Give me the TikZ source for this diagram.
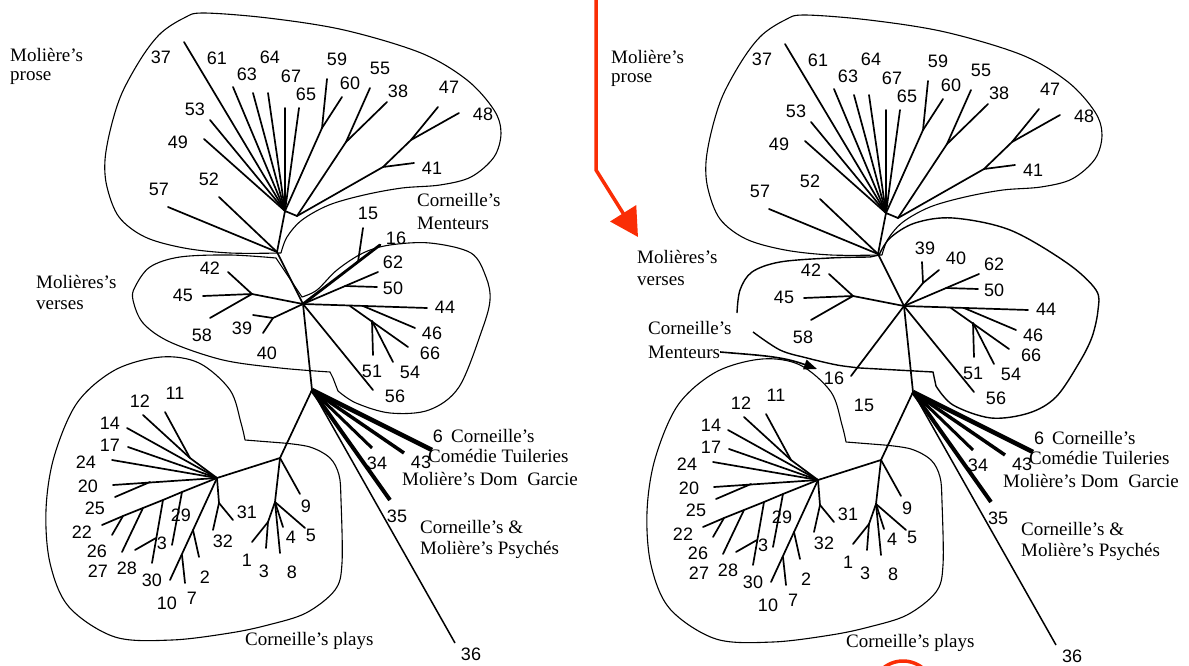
\documentclass[tikz,border=0pt]{standalone}
\usepackage{fontspec}
\setmainfont{Liberation Serif}
\setsansfont{Liberation Sans}
\usetikzlibrary{arrows.meta}
\definecolor{redmark}{RGB}{250,45,5}
\tikzset{
  lab/.style={font=\sffamily\fontsize{18}{18}\selectfont, inner sep=0pt},
  ttl/.style={font=\fontsize{19}{19}\selectfont, inner sep=0pt, anchor=west},
  br/.style={line width=1.7pt, line cap=round},
  outl/.style={line width=1.1pt},
  redline/.style={draw=redmark, line width=3.5pt},
}
\newcommand\leafat[5]{\coordinate (#1e#2) at (#3); \node[lab] (#1l#2) at (#4) {#5};}
\newcommand\drawcommontree[1]{%
  % hubs
  \coordinate (#1PH) at (285,211);
  \coordinate (#1PH2) at (297,216);
  \coordinate (#1LH) at (277,252);
  \coordinate (#1VH) at (303,304);
  \coordinate (#1PL) at (312,390);
  % prose
  \leafat{#1}{37}{184,42}{161,57}{37}
  \leafat{#1}{61}{233,87}{217,58}{61}
  \leafat{#1}{63}{253,93}{247,74}{63}
  \leafat{#1}{64}{268,93}{270,57}{64}
  \leafat{#1}{67}{285,108}{291,76}{67}
  \leafat{#1}{65}{299,108}{306,94}{65}
  \leafat{#1}{59}{327,79}{337,59}{59}
  \leafat{#1}{60}{342,97}{350,83}{60}
  \leafat{#1}{55}{370,88}{380,68}{55}
  \leafat{#1}{38}{387,102}{398,91}{38}
  \leafat{#1}{47}{438,107}{449,87}{47}
  \leafat{#1}{48}{459,113}{483,114}{48}
  \leafat{#1}{41}{414,163}{432,168}{41}
  \leafat{#1}{53}{210,120}{195,109}{53}
  \leafat{#1}{49}{204,139}{178,142}{49}
  \leafat{#1}{52}{219,197}{209,179}{52}
  \leafat{#1}{57}{168,207}{159,189}{57}
  \coordinate (#1J5960) at (322,128);
  \coordinate (#1J5538) at (346,142);
  \coordinate (#1J4748) at (411,140);
  \coordinate (#1J41) at (383,167);
  \foreach \n in {37,61,63,64,67,65,53,49} {\draw[br] (#1PH) -- (#1e\n);}
  \draw[br] (#1e59) -- (#1J5960) -- (#1PH);
  \draw[br] (#1e60) -- (#1J5960);
  \draw[br] (#1e55) -- (#1J5538) -- (#1PH2);
  \draw[br] (#1e38) -- (#1J5538);
  \draw[br] (#1e47) -- (#1J4748) -- (#1J41) -- (#1PH2);
  \draw[br] (#1e48) -- (#1J4748);
  \draw[br] (#1e41) -- (#1J41);
  \draw[br] (#1PH2) -- (#1PH) -- (#1LH) -- (#1VH) -- (#1PL);
  \draw[br] (#1e52) -- (#1LH);
  \draw[br] (#1e57) -- (#1LH);
  % verses
  \leafat{#1}{42}{228,272}{210,268}{42}
  \leafat{#1}{45}{203,296}{183,295}{45}
  \leafat{#1}{58}{210,318}{202,335}{58}
  \coordinate (#1JL) at (252,294);
  \draw[br] (#1e42) -- (#1JL);
  \draw[br] (#1e45) -- (#1JL);
  \draw[br] (#1e58) -- (#1JL);
  \draw[br] (#1JL) -- (#1VH);
  \leafat{#1}{62}{378,272}{393,262}{62}
  \leafat{#1}{50}{377,287}{393,288}{50}
  \leafat{#1}{44}{427,308}{445,307}{44}
  \leafat{#1}{46}{415,328}{432,333}{46}
  \leafat{#1}{66}{408,347}{430,353}{66}
  \leafat{#1}{54}{393,362}{410,372}{54}
  \leafat{#1}{51}{373,355}{372,371}{51}
  \leafat{#1}{56}{373,390}{395,396}{56}
  \coordinate (#1J50) at (345,286);
  \coordinate (#1J46) at (363,306);
  \coordinate (#1J66) at (350,306);
  \coordinate (#1J54) at (372,321);
  \draw[br] (#1VH) -- (#1e62);
  \draw[br] (#1J50) -- (#1e50);
  \draw[br] (#1VH) -- (#1e44);
  \draw[br] (#1J46) -- (#1e46);
  \draw[br] (#1J66) -- (#1e66);
  \draw[br] (#1J54) -- (#1e54);
  \draw[br] (#1J54) -- (#1e51);
  \draw[br] (#1VH) -- (#1e56);
  % plays
  \coordinate (#1A) at (280,458);
  \coordinate (#1B) at (217,478);
  \coordinate (#1C) at (275,502);
  \coordinate (#1D) at (268,522);
  \leafat{#1}{9}{300,494}{306,506}{9}
  \leafat{#1}{5}{305,528}{311,535}{5}
  \leafat{#1}{4}{283,527}{291,537}{4}
  \leafat{#1}{8}{280,553}{292,572}{8}
  \leafat{#1}{1}{252,542}{247,560}{1}
  \leafat{#1}{3b}{266,548}{264,571}{3}
  \draw[br] (#1PL) -- (#1A) -- (#1B);
  \draw[br] (#1A) -- (#1C) -- (#1D);
  \draw[br] (#1A) -- (#1e9);
  \draw[br] (#1C) -- (#1e5);
  \draw[br] (#1C) -- (#1e4);
  \draw[br] (#1C) -- (#1e8);
  \draw[br] (#1D) -- (#1e1);
  \draw[br] (#1D) -- (#1e3b);
  \leafat{#1}{11}{165,412}{175,393}{11}
  \leafat{#1}{12}{143,415}{140,401}{12}
  \leafat{#1}{14}{127,428}{110,423}{14}
  \leafat{#1}{17}{128,447}{110,445}{17}
  \leafat{#1}{24}{112,460}{86,462}{24}
  \leafat{#1}{20}{113,485}{88,486}{20}
  \leafat{#1}{25}{115,497}{95,508}{25}
  \leafat{#1}{22}{102,525}{82,532}{22}
  \leafat{#1}{26}{112,535}{97,551}{26}
  \leafat{#1}{27}{122,552}{98,571}{27}
  \leafat{#1}{28}{135,550}{127,568}{28}
  \leafat{#1}{30}{152,563}{152,580}{30}
  \leafat{#1}{29}{172,545}{181,515}{29}
  \leafat{#1}{10}{170,580}{167,603}{10}
  \leafat{#1}{7}{185,583}{192,598}{7}
  \leafat{#1}{2}{199,557}{205,577}{2}
  \leafat{#1}{31}{233,520}{247,512}{31}
  \leafat{#1}{32}{213,530}{223,541}{32}
  \node[lab] (#1l3a) at (162,543) {3};
  \coordinate (#1J1112) at (190,458);
  \coordinate (#1J25) at (150,482);
  \coordinate (#1K1) at (182,492);
  \coordinate (#1K2) at (163,500);
  \coordinate (#1K3) at (143,508);
  \coordinate (#1K4) at (123,516);
  \coordinate (#1J28) at (156,538);
  \coordinate (#1M1) at (193,530);
  \coordinate (#1J7) at (182,555);
  \coordinate (#1N) at (219,503);
  \draw[br] (#1e11) -- (#1J1112);
  \draw[br] (#1e12) -- (#1J1112) -- (#1B);
  \draw[br] (#1e14) -- (#1B);
  \draw[br] (#1e17) -- (#1B);
  \draw[br] (#1e24) -- (#1B);
  \draw[br] (#1e20) -- (#1B);
  \draw[br] (#1e25) -- (#1J25);
  \draw[br] (#1B) -- (#1K1) -- (#1K2) -- (#1K3) -- (#1K4) -- (#1e22);
  \draw[br] (#1K4) -- (#1e26);
  \draw[br] (#1K3) -- (#1e27);
  \draw[br] (#1K2) -- (#1e30);
  \draw[br] (#1J28) -- (#1e28);
  \draw[br] (#1K1) -- (#1e29);
  \draw[br] (#1B) -- (#1e10);
  \draw[br] (#1J7) -- (#1e7);
  \draw[br] (#1M1) -- (#1e2);
  \draw[br] (#1B) -- (#1N) -- (#1e31);
  \draw[br] (#1N) -- (#1e32);
  % Corneille / Moliere special plays
  \leafat{#1}{6}{432,450}{438,436}{6}
  \leafat{#1}{43}{404,453}{421,462}{43}
  \leafat{#1}{34}{372,448}{377,463}{34}
  \leafat{#1}{35}{390,500}{397,516}{35}
  \leafat{#1}{36}{455,643}{471,654}{36}
  \draw[line width=4.5pt] (#1PL) -- (#1e6);
  \draw[line width=3.5pt] (#1PL) -- (#1e43);
  \draw[line width=3pt] (#1PL) -- (#1e34);
  \draw[line width=4pt] (#1PL) -- (#1e35);
  \draw[line width=1.5pt] (#1PL) -- (#1e36);
  % texts
  \node[ttl] (#1tMp) at (10,55) {Molière's};
  \node[ttl] (#1tMp2) at (10,78) {prose};
  \node[ttl] (#1tC6) at (451,436) {Corneille's};
  \node[ttl] (#1tCT) at (428,456) {Comédie Tuileries};
  \node[ttl] (#1tDG) at (402,479) {Molière's Dom\ \ Garcie};
  \node[ttl] (#1tCM) at (420,527) {Corneille's \&};
  \node[ttl] (#1tPs) at (420,550) {Molière's Psychés};
  \node[ttl] (#1tCp) at (245,641) {Corneille's plays};
  % outlines
  \draw[outl] plot[smooth, tension=0.55] coordinates {(281,253)(230,253)(184,248)(145,237)(119,217)(107,187)(105,160)(111,127)(122,93)(142,57)(161,33)(184,18)(203,13)(268,18)(344,30)(421,53)(467,80)(494,110)(501,133)(494,157)(471,177)(440,185)(402,188)(364,195)(329,205)(302,220)(287,237)(281,253)};
  \draw[outl] (245,440) -- plot[smooth, tension=0.55] coordinates {(283,443)(310,447)(330,458)(339,475)(341,500)(342,563)(335,590)(306,613)(268,625)(230,633)(172,640)(115,637)(69,607)(50,563)(46,510)(54,457)(77,403)(115,370)(161,357)(199,363)(230,390)(241,423)(245,440)};
}
\begin{document}
\begin{tikzpicture}[x=1pt,y=-1pt]
\useasboundingbox (0,0) rectangle (1189,666);
\fill[white] (0,0) rectangle (1189,666);
% ---------- left figure ----------
\drawcommontree{L}
\leafat{L}{16}{380,245}{396,238}{16}
\leafat{L}{15}{363,228}{368,213}{15}
\coordinate (LJ15) at (358,262);
\draw[br, line width=2.8pt] (LVH) -- (Le16);
\draw[br] (LJ15) -- (Le15);
\leafat{L}{39}{253,315}{242,328}{39}
\coordinate (LJ39) at (273,318);
\coordinate (Le40) at (263,333);
\node[lab] (Ll40) at (267,353) {40};
\draw[br] (Le39) -- (LJ39) -- (LVH);
\draw[br] (Le40) -- (LJ39);
\node[ttl] (LtCM1) at (417,200) {Corneille's};
\node[ttl] (LtCM2) at (417,223) {Menteurs};
\node[ttl] (LtMv1) at (36,282) {Molières's};
\node[ttl] (LtMv2) at (36,305) {verses};
\draw[outl] (333,378) -- plot[smooth, tension=0.55] coordinates {(338,391)(356,403)(390,413)(429,410)(459,387)(482,330)(490,300)(486,277)(471,253)(430,243)(390,245)(363,253)(337,270)(317,290)(302,297)} -- plot[smooth, tension=0.55] coordinates {(276,258)(230,255)(180,257)(150,267)(135,287)(133,300)(143,323)(170,342)(223,360)(280,368)(330,372)} -- cycle;
% ---------- right figure ----------
\begin{scope}[shift={(601,2)}]
\drawcommontree{R}
\end{scope}
\leafat{R}{16}{851,376}{834,378}{16}
\node[lab] (Rl15) at (864,405) {15};
\draw[br] (RVH) -- (Re16);
\leafat{R}{39}{922,262}{925,248}{39}
\leafat{R}{40}{939,270}{956,258}{40}
\coordinate (RJ39) at (923,283);
\draw[br] (Re39) -- (RJ39) -- (RVH);
\draw[br] (Re40) -- (RJ39);
\node[ttl] (RtMv1) at (637,257) {Molières's};
\node[ttl] (RtMv2) at (637,281) {verses};
\node[ttl] (RtCM1) at (648,328) {Corneille's};
\node[ttl] (RtCM2) at (648,352) {Menteurs};
\draw[outl, line width=1.4pt] plot[smooth, tension=0.55] coordinates {(753,332)(780,350)(807,358)(837,365)(860,368)} -- (933,372) -- plot[smooth, tension=0.55] coordinates {(936,386)(953,405)(991,418)(1029,413)(1056,397)(1079,363)(1092,337)(1098,310)(1096,290)(1067,263)(1010,230)(953,218)(915,223)(890,238)(879,255)} -- plot[smooth, tension=0.55] coordinates {(870,257)(830,258)(780,262)(752,272)(740,290)(737,313)};
\coordinate (Rarr) at (817,369);
\draw[line width=1.6pt, -{Triangle[length=13pt,width=10pt]}] (RtCM2.east) to[out=-5, in=160] (Rarr);
% red marks
\coordinate (redtop) at (596,-4);
\coordinate (redbend) at (596,170);
\coordinate (redtip) at (638,237);
\draw[redline, -{Triangle[length=28pt,width=30pt]}] (redtop) -- (redbend) -- (redtip);
\coordinate (redc) at (903,692);
\draw[redline] (redc) circle[radius=31pt];
\end{tikzpicture}
\end{document}
